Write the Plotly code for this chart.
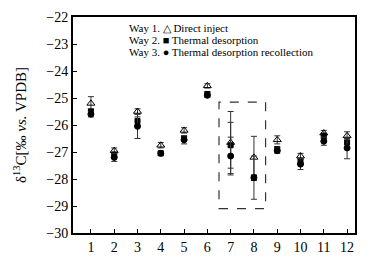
import plotly.graph_objects as go

samples = [1, 2, 3, 4, 5, 6, 7, 8, 9, 10, 11, 12]
way1_direct = [-25.2, -26.95, -25.5, -26.75, -26.2, -24.55, -26.65, -27.2, -26.55, -27.15, -26.3, -26.4]
way1_err = [0.25, 0.1, 0.1, 0.1, 0.1, 0.08, 1.15, 0.78, 0.15, 0.1, 0.1, 0.15]
way2_thermal = [-25.5, -27.1, -25.85, -27.05, -26.5, -24.85, -26.75, -27.95, -26.9, -27.35, -26.4, -26.65]
way2_err = [0.1, 0.1, 0.15, 0.08, 0.1, 0.08, 0.85, 0.1, 0.1, 0.1, 0.1, 0.15]
way3_recollect = [-25.6, -27.2, -26.05, -27.05, -26.55, -24.9, -27.15, -27.95, -26.95, -27.45, -26.6, -26.85]
way3_err = [0.1, 0.15, 0.45, 0.08, 0.15, 0.08, 0.7, 0.8, 0.1, 0.2, 0.15, 0.4]

legend_lines = ["Way 1. \u25b3 Direct inject",
                "Way 2. \u25a0 Thermal desorption",
                "Way 3. \u25cf Thermal desorption recollection"]
highlight_x = [6.5, 8.5]
highlight_y = [-29.1, -25.15]

serif = "Liberation Serif"

fig = go.Figure()

def add(y, err, symbol, size, fill):
    fig.add_trace(go.Scatter(
        x=samples, y=y, mode="markers",
        marker=dict(symbol=symbol, size=size, color=fill,
                    line=dict(color="black", width=1)),
        error_y=dict(type="data", array=err, visible=True, color="#333333",
                     thickness=1, width=3),
        showlegend=False))

add(way1_direct, way1_err, "triangle-up-open", 7, "black")
add(way2_thermal, way2_err, "square", 5, "black")
add(way3_recollect, way3_err, "circle", 6, "black")

fig.add_shape(type="rect", x0=highlight_x[0], x1=highlight_x[1],
              y0=highlight_y[0], y1=highlight_y[1], xref="x", yref="y",
              line=dict(color="#333333", width=1.2, dash="dash"))

for i, line in enumerate(legend_lines):
    fig.add_annotation(xref="paper", yref="paper", x=0.19, y=0.949 - 0.0555 * i,
                       xanchor="left", yanchor="middle", align="left", showarrow=False,
                       text=line,
                       font=dict(family=serif, size=11, color="black"))

fig.update_xaxes(range=[0.23, 12.34], tickmode="array", tickvals=samples,
                 ticktext=[str(s) for s in samples], automargin=False,
                 showline=True, linecolor="black", linewidth=2, mirror=True,
                 ticks="inside", ticklen=4, tickcolor="black", showgrid=False,
                 zeroline=False, tickfont=dict(family=serif, size=14, color="black"))
fig.update_yaxes(range=[-30, -22], dtick=1, tickformat="d", automargin=False,
                 showline=True, linecolor="black", linewidth=2, mirror=True,
                 ticks="inside", ticklen=4, tickcolor="black", showgrid=False,
                 zeroline=False, tickfont=dict(family=serif, size=14, color="black"),
                 title=dict(text="\u03b4<sup>13</sup>C[\u2030 <i>vs.</i> VPDB]",
                            font=dict(family=serif, size=15, color="black"),
                            standoff=16))

fig.update_layout(width=389, height=267, margin=dict(l=73, r=34, t=17, b=34),
                  paper_bgcolor="white", plot_bgcolor="white")

fig.write_html("out.html", config={"displayModeBar": False},
               post_script="document.body.style.margin='0';document.body.style.padding='0';")
